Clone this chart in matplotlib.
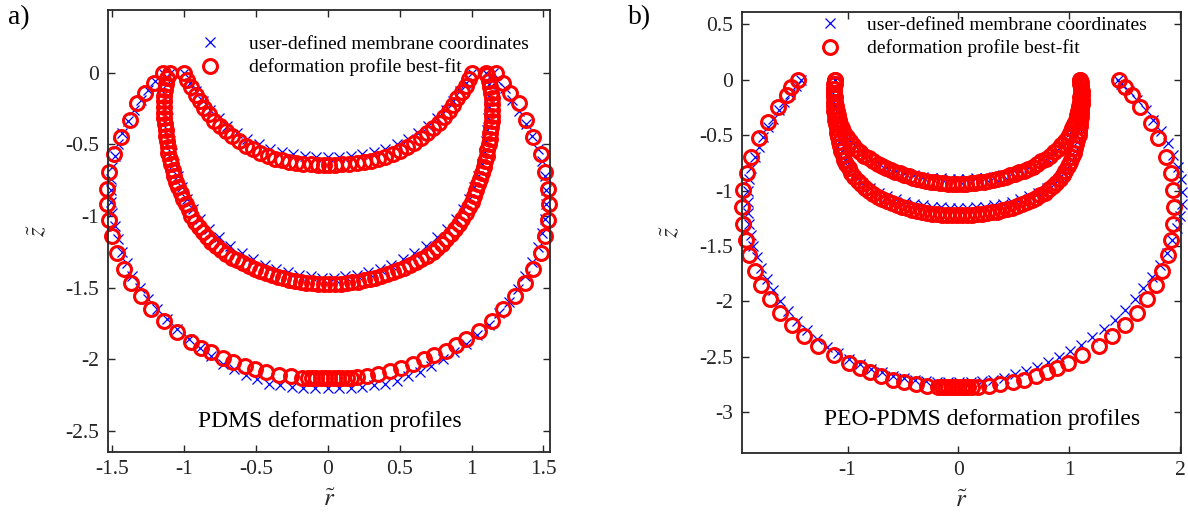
import numpy as np
import matplotlib.pyplot as plt

plt.rcParams['font.family'] = 'Liberation Serif'
plt.rcParams['mathtext.fontset'] = 'stix'
plt.rcParams['axes.unicode_minus'] = False

# ---- a) PDMS : fitted profiles (r, z) ----
a_fit_inner = [(-1.00, 0.00), (-0.98, -0.05), (-0.95, -0.10), (-0.92, -0.155), (-0.89, -0.20),
               (-0.86, -0.245), (-0.83, -0.29), (-0.79, -0.335), (-0.75, -0.375), (-0.71, -0.41),
               (-0.67, -0.445), (-0.62, -0.48), (-0.57, -0.51), (-0.52, -0.535), (-0.47, -0.56),
               (-0.42, -0.58), (-0.37, -0.60), (-0.32, -0.612), (-0.27, -0.622), (-0.22, -0.63),
               (-0.17, -0.636), (-0.12, -0.64), (-0.07, -0.643), (-0.03, -0.645),
               (0.01, -0.645), (0.05, -0.644), (0.10, -0.641), (0.15, -0.637), (0.20, -0.632),
               (0.25, -0.625), (0.30, -0.616), (0.35, -0.605), (0.40, -0.59), (0.45, -0.57),
               (0.50, -0.545), (0.55, -0.52), (0.60, -0.49), (0.65, -0.455), (0.69, -0.42),
               (0.73, -0.385), (0.77, -0.35), (0.81, -0.31), (0.84, -0.27), (0.87, -0.225),
               (0.90, -0.18), (0.93, -0.135), (0.96, -0.09), (0.98, -0.045), (1.00, 0.00)]

a_fit_mid = [(-1.10, 0.00), (-1.12, -0.04), (-1.13, -0.08), (-1.135, -0.12), (-1.14, -0.16),
             (-1.14, -0.20), (-1.14, -0.24), (-1.14, -0.28), (-1.14, -0.32), (-1.135, -0.36),
             (-1.13, -0.40), (-1.13, -0.44), (-1.12, -0.48), (-1.115, -0.52), (-1.11, -0.56),
             (-1.10, -0.60), (-1.09, -0.64), (-1.08, -0.68), (-1.07, -0.72), (-1.055, -0.76),
             (-1.04, -0.80), (-1.025, -0.84), (-1.01, -0.88), (-0.99, -0.92), (-0.97, -0.96),
             (-0.95, -1.00), (-0.925, -1.04), (-0.90, -1.075), (-0.87, -1.11), (-0.84, -1.145),
             (-0.81, -1.18), (-0.78, -1.21), (-0.745, -1.24), (-0.71, -1.265), (-0.67, -1.29),
             (-0.63, -1.31), (-0.59, -1.33), (-0.55, -1.35), (-0.51, -1.37), (-0.47, -1.385),
             (-0.43, -1.40), (-0.39, -1.415), (-0.35, -1.425), (-0.31, -1.435), (-0.27, -1.445),
             (-0.23, -1.455), (-0.19, -1.462), (-0.15, -1.467), (-0.11, -1.471), (-0.07, -1.474),
             (-0.03, -1.476),
             (0.01, -1.476), (0.05, -1.475), (0.09, -1.472), (0.13, -1.469), (0.17, -1.464),
             (0.21, -1.458), (0.25, -1.45), (0.29, -1.44), (0.33, -1.43), (0.37, -1.42),
             (0.41, -1.408), (0.45, -1.393), (0.49, -1.378), (0.53, -1.36), (0.57, -1.34),
             (0.61, -1.32), (0.65, -1.30), (0.69, -1.278), (0.73, -1.253), (0.76, -1.225),
             (0.795, -1.195), (0.825, -1.163), (0.855, -1.128), (0.885, -1.093), (0.91, -1.058),
             (0.935, -1.02), (0.96, -0.98), (0.98, -0.94), (1.00, -0.90), (1.015, -0.86),
             (1.03, -0.82), (1.045, -0.78), (1.06, -0.74), (1.075, -0.70), (1.085, -0.66),
             (1.095, -0.62), (1.105, -0.58), (1.11, -0.54), (1.12, -0.50), (1.125, -0.46),
             (1.13, -0.42), (1.135, -0.38), (1.14, -0.34), (1.14, -0.30), (1.14, -0.26),
             (1.14, -0.22), (1.14, -0.18), (1.135, -0.14), (1.13, -0.10), (1.12, -0.06),
             (1.11, -0.02), (1.10, 0.00)]

a_fit_outer = [(-1.15, 0.00), (-1.21, -0.07), (-1.27, -0.14), (-1.33, -0.21), (-1.38, -0.33),
               (-1.44, -0.45), (-1.49, -0.57), (-1.52, -0.69), (-1.54, -0.81), (-1.54, -0.92),
               (-1.52, -1.03), (-1.50, -1.14), (-1.47, -1.26), (-1.42, -1.37), (-1.37, -1.47),
               (-1.30, -1.56), (-1.23, -1.65), (-1.14, -1.73), (-1.05, -1.81), (-0.95, -1.88),
               (-0.88, -1.92), (-0.81, -1.95), (-0.73, -1.99), (-0.66, -2.02), (-0.58, -2.05),
               (-0.51, -2.07), (-0.43, -2.09), (-0.34, -2.11), (-0.26, -2.12), (-0.18, -2.13),
               (-0.14, -2.13), (-0.11, -2.13), (-0.08, -2.13), (-0.05, -2.13), (-0.02, -2.13),
               (0.01, -2.13), (0.04, -2.13), (0.07, -2.13), (0.10, -2.13), (0.13, -2.13),
               (0.16, -2.13),
               (0.20, -2.125), (0.27, -2.12), (0.35, -2.10), (0.43, -2.08), (0.51, -2.06),
               (0.59, -2.03), (0.67, -2.00), (0.74, -1.97), (0.82, -1.94), (0.89, -1.90),
               (0.96, -1.86), (1.05, -1.80), (1.14, -1.73), (1.22, -1.65), (1.30, -1.56),
               (1.37, -1.47), (1.43, -1.37), (1.48, -1.26), (1.51, -1.14), (1.53, -1.03),
               (1.54, -0.92), (1.53, -0.81), (1.51, -0.69), (1.48, -0.57), (1.43, -0.45),
               (1.38, -0.33), (1.33, -0.21), (1.27, -0.14), (1.22, -0.07), (1.17, 0.00)]

# ---- a) PDMS : user-defined membrane coordinates ----
a_pts_inner = [(-1.00, 0.0), (-0.96, -0.07), (-0.92, -0.13), (-0.87, -0.20), (-0.82, -0.26),
               (-0.76, -0.32), (-0.70, -0.37), (-0.63, -0.42), (-0.56, -0.46), (-0.48, -0.50),
               (-0.40, -0.53), (-0.32, -0.555), (-0.24, -0.57), (-0.16, -0.58), (-0.08, -0.59),
               (0.0, -0.59), (0.08, -0.59), (0.16, -0.58), (0.24, -0.57), (0.32, -0.555),
               (0.40, -0.53), (0.48, -0.50), (0.56, -0.46), (0.63, -0.42), (0.70, -0.37),
               (0.76, -0.32), (0.82, -0.26), (0.87, -0.20), (0.92, -0.13), (0.96, -0.07),
               (1.00, 0.0)]

a_pts_mid = [(-1.10, 0.0), (-1.12, -0.08), (-1.12, -0.16), (-1.12, -0.24), (-1.115, -0.32),
             (-1.11, -0.40), (-1.10, -0.48), (-1.085, -0.56), (-1.07, -0.64), (-1.045, -0.72),
             (-1.015, -0.80), (-0.98, -0.88), (-0.94, -0.95), (-0.89, -1.02), (-0.83, -1.09),
             (-0.76, -1.15), (-0.68, -1.21), (-0.60, -1.26), (-0.52, -1.30), (-0.44, -1.34),
             (-0.36, -1.37), (-0.28, -1.39), (-0.20, -1.41), (-0.12, -1.42), (-0.04, -1.43),
             (0.04, -1.43), (0.12, -1.42), (0.20, -1.41), (0.28, -1.39), (0.36, -1.37),
             (0.44, -1.34), (0.52, -1.30), (0.60, -1.26), (0.68, -1.21), (0.76, -1.15),
             (0.83, -1.09), (0.89, -1.02), (0.94, -0.95), (0.98, -0.88), (1.015, -0.80),
             (1.045, -0.72), (1.07, -0.64), (1.085, -0.56), (1.10, -0.48), (1.11, -0.40),
             (1.115, -0.32), (1.12, -0.24), (1.12, -0.16), (1.12, -0.08), (1.10, 0.0)]

a_pts_outer = [(-1.15, 0.0), (-1.20, -0.06), (-1.25, -0.12), (-1.30, -0.19), (-1.35, -0.26),
               (-1.39, -0.34), (-1.43, -0.42), (-1.46, -0.50), (-1.48, -0.58), (-1.50, -0.66),
               (-1.51, -0.74), (-1.51, -0.82), (-1.51, -0.90), (-1.50, -0.98), (-1.48, -1.07),
               (-1.46, -1.16), (-1.43, -1.25), (-1.40, -1.33), (-1.36, -1.42), (-1.31, -1.50),
               (-1.25, -1.58), (-1.19, -1.65), (-1.12, -1.72), (-1.05, -1.79), (-0.97, -1.86),
               (-0.89, -1.92), (-0.81, -1.98), (-0.73, -2.03), (-0.65, -2.07), (-0.57, -2.11),
               (-0.49, -2.14), (-0.41, -2.17), (-0.33, -2.18), (-0.25, -2.19), (-0.17, -2.20),
               (-0.09, -2.20), (0.00, -2.20), (0.08, -2.20), (0.16, -2.20), (0.24, -2.19),
               (0.32, -2.18), (0.40, -2.17), (0.48, -2.15), (0.56, -2.12), (0.64, -2.09),
               (0.72, -2.05), (0.80, -2.00), (0.88, -1.95), (0.96, -1.89), (1.04, -1.83),
               (1.12, -1.76), (1.19, -1.68), (1.26, -1.60), (1.32, -1.51), (1.37, -1.42),
               (1.42, -1.32), (1.46, -1.22), (1.49, -1.12), (1.51, -1.02), (1.52, -0.92),
               (1.52, -0.82), (1.51, -0.72), (1.49, -0.62), (1.46, -0.53), (1.42, -0.44),
               (1.38, -0.36), (1.33, -0.27), (1.28, -0.19), (1.23, -0.11), (1.18, -0.05),
               (1.15, 0.0)]

# ---- b) PEO-PDMS : fitted profiles ----
b_fit_upper = [(-1.11, 0.00), (-1.115, -0.04), (-1.12, -0.08), (-1.12, -0.12), (-1.115, -0.16),
               (-1.11, -0.20), (-1.105, -0.24), (-1.10, -0.28), (-1.09, -0.32), (-1.08, -0.36),
               (-1.065, -0.40), (-1.05, -0.44), (-1.03, -0.48), (-1.005, -0.52), (-0.98, -0.555),
               (-0.95, -0.59), (-0.92, -0.625), (-0.885, -0.655), (-0.85, -0.685), (-0.81, -0.71),
               (-0.77, -0.735), (-0.73, -0.76), (-0.69, -0.78), (-0.65, -0.80), (-0.61, -0.815),
               (-0.57, -0.83), (-0.53, -0.845), (-0.49, -0.86), (-0.45, -0.873), (-0.41, -0.885),
               (-0.37, -0.895), (-0.33, -0.905), (-0.29, -0.913), (-0.25, -0.92), (-0.21, -0.926),
               (-0.17, -0.931), (-0.13, -0.935), (-0.09, -0.938), (-0.05, -0.94), (-0.01, -0.941),
               (0.03, -0.941), (0.07, -0.939), (0.11, -0.936), (0.15, -0.932), (0.19, -0.927),
               (0.23, -0.921), (0.27, -0.914), (0.31, -0.906), (0.35, -0.897), (0.39, -0.887),
               (0.43, -0.876), (0.47, -0.864), (0.51, -0.85), (0.55, -0.836), (0.59, -0.82),
               (0.63, -0.803), (0.67, -0.784), (0.71, -0.762), (0.75, -0.738), (0.79, -0.712),
               (0.83, -0.685), (0.865, -0.655), (0.90, -0.625), (0.93, -0.59), (0.96, -0.555),
               (0.985, -0.52), (1.01, -0.48), (1.03, -0.44), (1.045, -0.40), (1.06, -0.36),
               (1.07, -0.32), (1.08, -0.28), (1.09, -0.24), (1.095, -0.20), (1.10, -0.16),
               (1.105, -0.12), (1.105, -0.08), (1.10, -0.04), (1.10, 0.00)]

b_fit_lower = [(-1.11, 0.00), (-1.12, -0.04), (-1.125, -0.08), (-1.125, -0.12), (-1.125, -0.16),
               (-1.125, -0.20), (-1.12, -0.24), (-1.12, -0.28), (-1.115, -0.32), (-1.11, -0.36),
               (-1.105, -0.40), (-1.10, -0.44), (-1.095, -0.48), (-1.09, -0.52), (-1.08, -0.56),
               (-1.07, -0.60), (-1.06, -0.64), (-1.045, -0.68), (-1.03, -0.72), (-1.01, -0.76),
               (-0.99, -0.80), (-0.965, -0.84), (-0.94, -0.875), (-0.91, -0.91), (-0.88, -0.945),
               (-0.845, -0.975), (-0.81, -1.005), (-0.77, -1.03), (-0.73, -1.055), (-0.69, -1.075),
               (-0.645, -1.095), (-0.60, -1.115), (-0.555, -1.13), (-0.51, -1.145), (-0.465, -1.16),
               (-0.42, -1.173), (-0.375, -1.183), (-0.33, -1.193), (-0.285, -1.201), (-0.24, -1.208),
               (-0.195, -1.213), (-0.15, -1.217), (-0.105, -1.22), (-0.06, -1.222), (-0.015, -1.223),
               (0.03, -1.223), (0.075, -1.221), (0.12, -1.219), (0.165, -1.215), (0.21, -1.211),
               (0.255, -1.205), (0.30, -1.198), (0.345, -1.19), (0.39, -1.18), (0.435, -1.168),
               (0.48, -1.155), (0.525, -1.14), (0.57, -1.124), (0.615, -1.106), (0.66, -1.087),
               (0.70, -1.066), (0.74, -1.043), (0.78, -1.018), (0.815, -0.99), (0.85, -0.96),
               (0.885, -0.928), (0.915, -0.893), (0.94, -0.857), (0.965, -0.82), (0.99, -0.78),
               (1.01, -0.74), (1.03, -0.70), (1.045, -0.66), (1.055, -0.62), (1.065, -0.58),
               (1.075, -0.54), (1.085, -0.50), (1.09, -0.46), (1.095, -0.42), (1.10, -0.38),
               (1.105, -0.34), (1.11, -0.30), (1.11, -0.26), (1.115, -0.22), (1.115, -0.18),
               (1.115, -0.14), (1.115, -0.10), (1.11, -0.06), (1.105, -0.02), (1.10, 0.00)]

b_fit_outer = [(-1.45, 0.00), (-1.51, -0.063), (-1.55, -0.139), (-1.63, -0.244), (-1.72, -0.380),
               (-1.80, -0.530), (-1.87, -0.696), (-1.91, -0.846), (-1.94, -0.997), (-1.95, -1.148),
               (-1.94, -1.298), (-1.92, -1.443), (-1.89, -1.584), (-1.84, -1.726), (-1.78, -1.855),
               (-1.70, -1.976), (-1.61, -2.105), (-1.50, -2.217), (-1.39, -2.316), (-1.27, -2.407),
               (-1.12, -2.488), (-0.99, -2.557), (-0.89, -2.599), (-0.80, -2.639), (-0.70, -2.678),
               (-0.59, -2.708), (-0.49, -2.729), (-0.38, -2.750), (-0.28, -2.765), (-0.18, -2.774),
               (-0.15, -2.775), (-0.12, -2.775), (-0.09, -2.775), (-0.06, -2.775), (-0.03, -2.775),
               (0.00, -2.775), (0.03, -2.775), (0.06, -2.775), (0.09, -2.775), (0.12, -2.775),
               (0.18, -2.774), (0.28, -2.765), (0.38, -2.750), (0.49, -2.729), (0.59, -2.708),
               (0.70, -2.678), (0.80, -2.639), (0.89, -2.599), (0.99, -2.557), (1.12, -2.488),
               (1.27, -2.407), (1.39, -2.316), (1.50, -2.217), (1.61, -2.105), (1.70, -1.976),
               (1.78, -1.855), (1.84, -1.726), (1.89, -1.584), (1.92, -1.443), (1.94, -1.298),
               (1.95, -1.148), (1.94, -0.997), (1.92, -0.846), (1.87, -0.696), (1.80, -0.530),
               (1.74, -0.388), (1.64, -0.244), (1.57, -0.139), (1.50, -0.069), (1.45, 0.00)]

# ---- b) PEO-PDMS : user-defined membrane coordinates ----
b_pts_upper = [(-1.11, 0.0), (-1.11, -0.08), (-1.10, -0.16), (-1.09, -0.24), (-1.07, -0.32),
               (-1.05, -0.40), (-1.02, -0.47), (-0.98, -0.54), (-0.93, -0.60), (-0.87, -0.66),
               (-0.80, -0.71), (-0.72, -0.75), (-0.64, -0.79), (-0.56, -0.82), (-0.48, -0.84),
               (-0.40, -0.86), (-0.32, -0.875), (-0.24, -0.885), (-0.16, -0.89), (-0.08, -0.895),
               (0.0, -0.895), (0.08, -0.895), (0.16, -0.89), (0.24, -0.885), (0.32, -0.875),
               (0.40, -0.86), (0.48, -0.84), (0.56, -0.82), (0.64, -0.79), (0.72, -0.75),
               (0.80, -0.71), (0.87, -0.66), (0.93, -0.60), (0.98, -0.54), (1.02, -0.47),
               (1.05, -0.40), (1.07, -0.32), (1.09, -0.24), (1.10, -0.16), (1.11, -0.08),
               (1.11, 0.0)]

b_pts_lower = [(-1.11, 0.0), (-1.12, -0.08), (-1.12, -0.16), (-1.115, -0.24), (-1.11, -0.32),
               (-1.10, -0.40), (-1.09, -0.48), (-1.075, -0.56), (-1.05, -0.64), (-1.02, -0.72),
               (-0.98, -0.80), (-0.93, -0.87), (-0.87, -0.93), (-0.80, -0.98), (-0.72, -1.02),
               (-0.64, -1.05), (-0.56, -1.08), (-0.48, -1.10), (-0.40, -1.12), (-0.32, -1.135),
               (-0.24, -1.145), (-0.16, -1.15), (-0.08, -1.155), (0.0, -1.155), (0.08, -1.155),
               (0.16, -1.15), (0.24, -1.145), (0.32, -1.135), (0.40, -1.12), (0.48, -1.10),
               (0.56, -1.08), (0.64, -1.05), (0.72, -1.02), (0.80, -0.98), (0.87, -0.93),
               (0.93, -0.87), (0.98, -0.80), (1.02, -0.72), (1.05, -0.64), (1.075, -0.56),
               (1.09, -0.48), (1.10, -0.40), (1.11, -0.32), (1.115, -0.24), (1.12, -0.16),
               (1.12, -0.08), (1.11, 0.0)]

b_pts_outer = [(-1.42, 0.0), (-1.47, -0.06), (-1.52, -0.13), (-1.57, -0.20), (-1.62, -0.27),
               (-1.67, -0.35), (-1.72, -0.43), (-1.76, -0.52), (-1.80, -0.61), (-1.84, -0.70),
               (-1.87, -0.80), (-1.89, -0.90), (-1.90, -1.00), (-1.90, -1.10), (-1.90, -1.20),
               (-1.89, -1.30), (-1.87, -1.40), (-1.85, -1.50), (-1.82, -1.60), (-1.78, -1.70),
               (-1.73, -1.80), (-1.67, -1.90), (-1.61, -2.00), (-1.54, -2.09), (-1.46, -2.18),
               (-1.37, -2.26), (-1.28, -2.34), (-1.19, -2.41), (-1.09, -2.47), (-0.99, -2.52),
               (-0.89, -2.57), (-0.79, -2.61), (-0.69, -2.64), (-0.59, -2.67), (-0.49, -2.69),
               (-0.39, -2.71), (-0.29, -2.72), (-0.19, -2.73), (-0.09, -2.73),
               (0.01, -2.73), (0.11, -2.73), (0.21, -2.72), (0.31, -2.71), (0.41, -2.69),
               (0.51, -2.66), (0.61, -2.63), (0.71, -2.59), (0.81, -2.55), (0.91, -2.50),
               (1.01, -2.45), (1.11, -2.39), (1.21, -2.32), (1.31, -2.25), (1.41, -2.17),
               (1.50, -2.08), (1.59, -1.98), (1.67, -1.88), (1.75, -1.78), (1.82, -1.67),
               (1.88, -1.56), (1.93, -1.45), (1.97, -1.34), (2.00, -1.23), (2.02, -1.12),
               (2.02, -1.01), (2.01, -0.90), (1.98, -0.79), (1.94, -0.68), (1.89, -0.57),
               (1.83, -0.46), (1.76, -0.36), (1.69, -0.27), (1.61, -0.18), (1.54, -0.10),
               (1.47, -0.04), (1.44, 0.0)]

a_xticks = [-1.5, -1, -0.5, 0, 0.5, 1, 1.5]
a_xticklabels = ['-1.5', '-1', '-0.5', '0', '0.5', '1', '1.5']
a_yticks = [-2.5, -2, -1.5, -1, -0.5, 0]
a_yticklabels = ['-2.5', '-2', '-1.5', '-1', '-0.5', '0']
b_xticks = [-1, 0, 1, 2]
b_xticklabels = ['-1', '0', '1', '2']
b_yticks = [-3, -2.5, -2, -1.5, -1, -0.5, 0, 0.5]
b_yticklabels = ['-3', '-2.5', '-2', '-1.5', '-1', '-0.5', '0', '0.5']

dark = '#262626'

fig = plt.figure(figsize=(11.88, 5.14), dpi=100)
ax1 = fig.add_axes([0.0907, 0.1206, 0.3723, 0.8600])
ax2 = fig.add_axes([0.6243, 0.1196, 0.3695, 0.8576])


def draw(ax, measured, fitted):
    for i, pts in enumerate(measured):
        p = np.array(pts)
        ax.plot(p[:, 0], p[:, 1], 'x', color='b', ms=7.5, mew=0.9, clip_on=False,
                label='user-defined membrane coordinates' if i == 0 else None)
    for i, pts in enumerate(fitted):
        p = np.array(pts)
        ax.plot(p[:, 0], p[:, 1], 'o', mfc='none', mec='r', ms=10, mew=2.2, clip_on=False,
                label='deformation profile best-fit' if i == 0 else None)


draw(ax1, [a_pts_inner, a_pts_mid, a_pts_outer], [a_fit_inner, a_fit_mid, a_fit_outer])
draw(ax2, [b_pts_upper, b_pts_lower, b_pts_outer], [b_fit_upper, b_fit_lower, b_fit_outer])

ax1.set_xlim(-1.532, 1.546)
ax1.set_ylim(-2.647, 0.437)
ax1.set_xticks(a_xticks)
ax1.set_xticklabels(a_xticklabels)
ax1.set_yticks(a_yticks)
ax1.set_yticklabels(a_yticklabels)

ax2.set_xlim(-1.956, 2.006)
ax2.set_ylim(-3.365, 0.614)
ax2.set_xticks(b_xticks)
ax2.set_xticklabels(b_xticklabels)
ax2.set_yticks(b_yticks)
ax2.set_yticklabels(b_yticklabels)

for ax in (ax1, ax2):
    ax.tick_params(direction='in', top=True, right=True, length=5, width=1,
                   labelsize=15.5, color=dark, labelcolor=dark, pad=6)
    for s in ax.spines.values():
        s.set_linewidth(1.3)
        s.set_color(dark)
    ax.set_xlabel(r'$\tilde{r}$', fontsize=18, color=dark, labelpad=7)
    ax.set_ylabel(r'$\tilde{z}$', fontsize=18, color=dark, labelpad=12)

ax1.legend(loc='upper left', bbox_to_anchor=(0.188, 0.943), frameon=False, fontsize=14,
           handlelength=2, handletextpad=1.0, labelspacing=0.3, borderpad=0,
           borderaxespad=0, numpoints=1)
ax2.legend(loc='upper left', bbox_to_anchor=(0.156, 0.99), frameon=False, fontsize=14,
           handlelength=2, handletextpad=0.9, labelspacing=0.3, borderpad=0,
           borderaxespad=0, numpoints=1)

ax1.text(0.503, 0.07, 'PDMS deformation profiles', transform=ax1.transAxes,
         ha='center', va='center', fontsize=17)
ax2.text(0.547, 0.074, 'PEO-PDMS deformation profiles', transform=ax2.transAxes,
         ha='center', va='center', fontsize=17)

fig.text(8 / 1188, 1 - 18 / 514, 'a)', fontsize=20, ha='left', va='center')
fig.text(628 / 1188, 1 - 18 / 514, 'b)', fontsize=20, ha='left', va='center')

fig.savefig('out.png', dpi=100)
